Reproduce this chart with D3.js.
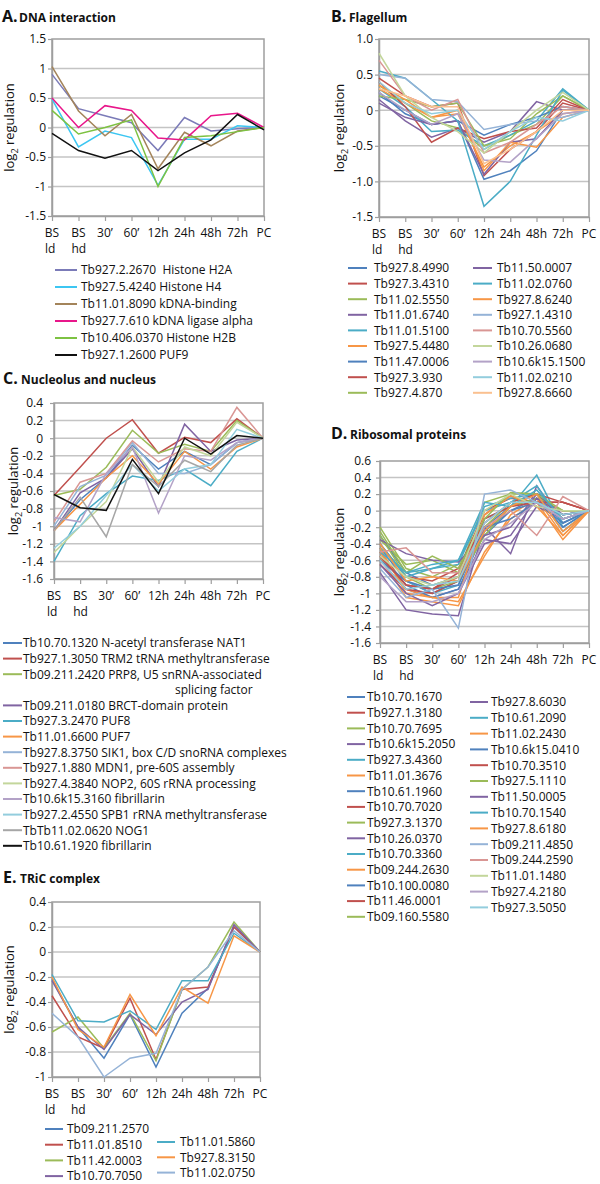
<!DOCTYPE html>
<html>
<head>
<meta charset="utf-8">
<script src="https://cdn.jsdelivr.net/npm/d3@7"></script>
<style>
  html, body { margin: 0; padding: 0; background: #fff; }
  text { font-family: "Open Sans", "Liberation Sans", Arial, sans-serif; fill: #111; }
</style>
</head>
<body>
<svg id="chart" width="600" height="1184"></svg>
<script>
// ---------- DATA ----------
const categoryLabels = [["BS","ld"],["BS","hd"],["30’"],["60’"],["12h"],["24h"],["48h"],["72h"],["PC"]];

// Excel-style palettes
const base = ["#4F81BD","#C0504D","#9BBB59","#8064A2","#4BACC6","#F79646"];
const light = ["#95B3D7","#D99694","#C3D69B","#B3A2C7","#93CDDD","#FAC090"];

// A. DNA interaction
const aNames = ["Tb927.2.2670  Histone H2A","Tb927.5.4240 Histone H4","Tb11.01.8090 kDNA-binding",
  "Tb927.7.610 kDNA ligase alpha","Tb10.406.0370 Histone H2B","Tb927.1.2600 PUF9"];
const aColors = ["#7b7bb8","#3cc6f2","#a3845a","#e8168a","#7dc242","#111111"];
const aValues = [
  [0.90, 0.32, 0.20, 0.08, -0.39, 0.17, -0.06, -0.02, 0],
  [0.48, -0.33, -0.06, -0.17, -0.98, -0.20, -0.20, 0.03, 0],
  [1.03, 0.28, -0.14, 0.22, -0.70, -0.08, -0.31, -0.06, 0],
  [0.50, 0.00, 0.37, 0.29, -0.18, -0.21, 0.20, 0.24, 0],
  [0.29, -0.11, 0.00, 0.13, -1.00, -0.17, -0.14, -0.07, 0],
  [-0.10, -0.39, -0.52, -0.39, -0.73, -0.43, -0.21, 0.22, -0.04]
];
const aTicks = [-1.5,-1,-0.5,0,0.5,1,1.5];

// B. Flagellum
const bNames = ["Tb927.8.4990","Tb927.3.4310","Tb11.02.5550","Tb11.01.6740","Tb11.01.5100","Tb927.5.4480",
  "Tb11.47.0006","Tb927.3.930","Tb927.4.870","Tb11.50.0007","Tb11.02.0760","Tb927.8.6240",
  "Tb927.1.4310","Tb10.70.5560","Tb10.26.0680","Tb10.6k15.1500","Tb11.02.0210","Tb927.8.6660"];
const bColors = [...base, ...base, ...light];
const bValues = [
  [0.25, -0.05, -0.20, -0.15, -0.97, -0.85, -0.57, 0.00, 0],
  [0.45, 0.20, 0.05, 0.10, -0.92, -0.55, -0.30, 0.10, 0],
  [0.35, 0.10, -0.15, -0.25, -0.55, -0.35, -0.20, 0.20, 0],
  [0.15, -0.15, -0.38, -0.25, -0.45, -0.30, 0.12, 0.00, 0],
  [0.30, 0.05, -0.30, -0.28, -0.50, -0.35, -0.15, 0.30, 0],
  [0.30, 0.10, -0.10, -0.05, -0.80, -0.50, -0.30, -0.05, 0],
  [0.20, 0.00, -0.20, -0.15, -0.35, -0.20, -0.10, 0.05, 0],
  [0.40, 0.05, -0.45, -0.25, -0.40, -0.30, -0.25, 0.15, 0],
  [0.20, 0.15, 0.05, 0.10, -0.50, -0.40, -0.05, 0.20, 0],
  [0.10, -0.10, -0.20, -0.15, -0.90, -0.45, -0.40, 0.00, 0],
  [0.55, 0.45, 0.15, -0.15, -1.35, -1.00, -0.35, 0.28, 0],
  [0.35, 0.15, -0.10, 0.00, -0.85, -0.45, -0.52, -0.10, 0],
  [0.50, 0.45, 0.15, 0.12, -0.27, -0.20, -0.15, -0.10, 0],
  [0.70, 0.20, 0.00, 0.15, -0.60, -0.45, -0.20, 0.05, 0],
  [0.80, 0.20, -0.10, -0.30, -0.60, -0.30, 0.00, 0.25, 0],
  [0.25, 0.00, -0.20, -0.05, -0.70, -0.73, -0.40, -0.05, 0],
  [0.40, 0.10, -0.05, 0.00, -0.55, -0.30, -0.10, -0.15, 0],
  [0.30, 0.20, 0.05, 0.05, -0.75, -0.55, -0.30, 0.00, 0]
];
const bTicks = [-1.5,-1,-0.5,0,0.5,1];

// C. Nucleolus and nucleus
const cNames = ["Tb10.70.1320 N-acetyl transferase NAT1","Tb927.1.3050 TRM2 tRNA methyltransferase",
  "Tb09.211.2420 PRP8, U5 snRNA-associated","Tb09.211.0180 BRCT-domain protein","Tb927.3.2470 PUF8",
  "Tb11.01.6600 PUF7","Tb927.8.3750 SIK1, box C/D snoRNA complexes","Tb927.1.880 MDN1, pre-60S assembly",
  "Tb927.4.3840 NOP2, 60S rRNA processing","Tb10.6k15.3160 fibrillarin","Tb927.2.4550 SPB1 rRNA methyltransferase",
  "TbTb11.02.0620 NOG1","Tb10.61.1920 fibrillarin"];
const cContinuation = "splicing factor";
const cColors = [...base, ...light.slice(0, 5), "#A6A6A6", "#111111"];
const cValues = [
  [-1.05, -0.70, -0.45, -0.08, -0.35, -0.15, -0.30, -0.05, 0],
  [-0.65, -0.33, 0.00, 0.21, -0.17, 0.01, -0.05, 0.22, 0],
  [-0.65, -0.58, -0.33, 0.09, -0.17, -0.07, -0.15, 0.20, 0],
  [-1.05, -0.62, -0.45, -0.12, -0.55, 0.16, -0.15, -0.02, 0],
  [-1.40, -0.88, -0.63, -0.43, -0.48, -0.35, -0.54, -0.15, 0],
  [-1.05, -0.75, -0.45, -0.20, -0.52, -0.15, -0.35, -0.10, 0],
  [-1.00, -0.55, -0.42, -0.05, -0.40, -0.40, -0.30, -0.05, 0],
  [-0.95, -0.50, -0.40, -0.03, -0.27, -0.12, -0.15, 0.35, 0],
  [-1.30, -1.00, -0.72, -0.10, -0.50, -0.10, -0.20, 0.18, 0],
  [-0.90, -0.95, -0.40, -0.10, -0.85, -0.20, -0.25, -0.05, 0],
  [-1.25, -1.00, -0.65, -0.30, -0.60, -0.35, -0.30, 0.10, 0],
  [-1.05, -0.67, -1.12, -0.30, -0.55, -0.25, -0.38, -0.08, 0],
  [-0.64, -0.79, -0.82, -0.24, -0.63, 0.00, -0.18, 0.03, 0]
];
const cTicks = [-1.6,-1.4,-1.2,-1,-0.8,-0.6,-0.4,-0.2,0,0.2,0.4];

// D. Ribosomal proteins
const dNames = ["Tb10.70.1670","Tb927.1.3180","Tb10.70.7695","Tb10.6k15.2050","Tb927.3.4360","Tb11.01.3676",
  "Tb10.61.1960","Tb10.70.7020","Tb927.3.1370","Tb10.26.0370","Tb10.70.3360","Tb09.244.2630",
  "Tb10.100.0080","Tb11.46.0001","Tb09.160.5580",
  "Tb927.8.6030","Tb10.61.2090","Tb11.02.2430","Tb10.6k15.0410","Tb10.70.3510","Tb927.5.1110",
  "Tb11.50.0005","Tb10.70.1540","Tb927.8.6180","Tb09.211.4850","Tb09.244.2590","Tb11.01.1480",
  "Tb927.4.2180","Tb927.3.5050"];
const dColors = [...base, ...base, ...base, ...base, ...light.slice(0,5)];
const dValues = [
  [-0.45, -0.85, -1.00, -0.85, -0.20, 0.05, 0.15, -0.10, 0],
  [-0.50, -0.90, -0.95, -0.75, 0.00, 0.15, 0.10, 0.10, 0],
  [-0.35, -0.65, -0.60, -0.75, 0.10, 0.20, 0.20, -0.05, 0],
  [-0.75, -1.20, -1.25, -1.27, -0.20, -0.52, 0.30, -0.15, 0],
  [-0.60, -0.85, -1.00, -0.90, -0.10, 0.05, 0.43, -0.20, 0],
  [-0.55, -1.05, -1.10, -1.15, -0.50, -0.10, 0.10, -0.35, 0],
  [-0.30, -0.75, -0.90, -0.80, -0.30, 0.00, 0.15, -0.20, 0],
  [-0.40, -0.80, -0.85, -0.70, -0.05, 0.18, 0.05, 0.00, 0],
  [-0.20, -0.70, -0.80, -0.65, -0.20, 0.10, 0.20, -0.10, 0],
  [-0.60, -0.95, -1.05, -0.95, -0.35, -0.40, 0.05, -0.10, 0],
  [-0.45, -0.75, -0.70, -0.65, 0.05, 0.15, 0.20, -0.25, 0],
  [-0.50, -0.95, -1.05, -1.10, -0.55, -0.05, 0.15, -0.30, 0],
  [-0.55, -0.90, -1.05, -0.95, -0.25, 0.00, 0.10, -0.05, 0],
  [-0.65, -0.95, -1.00, -0.85, -0.15, 0.10, 0.20, 0.10, 0],
  [-0.30, -0.80, -0.95, -0.85, -0.30, 0.05, 0.15, 0.00, 0],
  [-0.35, -0.52, -0.60, -0.62, -0.30, -0.20, 0.20, -0.05, 0],
  [-0.40, -0.80, -0.70, -0.60, 0.00, 0.10, 0.30, -0.15, 0],
  [-0.45, -1.00, -1.05, -1.05, -0.05, 0.18, 0.05, -0.30, 0],
  [-0.60, -0.85, -0.95, -0.90, -0.20, -0.10, 0.10, -0.15, 0],
  [-0.55, -0.90, -0.95, -0.80, -0.10, 0.05, 0.10, 0.10, 0],
  [-0.25, -0.75, -0.55, -0.70, -0.10, 0.22, 0.20, 0.00, 0],
  [-0.65, -1.00, -1.15, -1.00, -0.40, -0.30, 0.15, -0.05, 0],
  [-0.50, -0.75, -0.65, -0.60, 0.10, 0.05, 0.25, -0.10, 0],
  [-0.40, -0.85, -0.80, -0.85, -0.25, 0.05, 0.20, -0.25, 0],
  [-0.70, -1.05, -0.95, -1.42, 0.20, 0.25, 0.10, -0.10, 0],
  [-0.50, -0.45, -0.75, -0.75, -0.20, 0.00, -0.30, 0.17, 0],
  [-0.55, -0.80, -0.90, -0.80, 0.00, 0.20, 0.05, 0.00, 0],
  [-0.80, -1.10, -1.10, -1.00, -0.35, -0.15, 0.10, -0.10, 0],
  [-0.60, -0.95, -0.90, -0.85, -0.15, 0.10, 0.10, -0.05, 0]
];
const dTicks = [-1.6,-1.4,-1.2,-1,-0.8,-0.6,-0.4,-0.2,0,0.2,0.4,0.6];

// E. TRiC complex
const eNames = ["Tb09.211.2570","Tb11.01.8510","Tb11.42.0003","Tb10.70.7050","Tb11.01.5860","Tb927.8.3150","Tb11.02.0750"];
const eColors = [...base, light[0]];
const eValues = [
  [-0.22, -0.60, -0.85, -0.50, -0.92, -0.49, -0.29, 0.20, 0],
  [-0.35, -0.68, -0.77, -0.37, -0.86, -0.30, -0.28, 0.20, 0],
  [-0.64, -0.52, -0.77, -0.49, -0.87, -0.30, -0.12, 0.24, 0],
  [-0.23, -0.60, -0.78, -0.50, -0.66, -0.40, -0.30, 0.22, 0],
  [-0.18, -0.55, -0.56, -0.47, -0.62, -0.23, -0.23, 0.15, 0],
  [-0.20, -0.62, -0.76, -0.34, -0.67, -0.28, -0.41, 0.13, 0],
  [-0.49, -0.68, -1.00, -0.85, -0.81, -0.30, -0.12, 0.17, 0]
];
const eTicks = [-1,-0.8,-0.6,-0.4,-0.2,0,0.2,0.4];

// ---------- DRAW ----------
const svg = d3.select("#chart");
const fmtGeneral = d => { const v = Math.round(d*10)/10; return v === 0 ? "0" : String(v); };
const fmtOne = d => { const v = Math.round(d*10)/10; return v === 0 ? "0" : v.toFixed(1); };

function title(x, y, letter, text, x2) {
  svg.append("text").attr("x", x).attr("y", y).attr("font-size", 16).attr("font-weight", "bold").text(letter);
  svg.append("text").attr("x", x2).attr("y", y).attr("font-size", 12).attr("font-weight", "bold").text(text);
}

function panel(p) {
  const g = svg.append("g");
  const x = d3.scalePoint().domain(d3.range(categoryLabels.length)).range([p.left, p.right]);
  const y = d3.scaleLinear().domain(p.domain).range([p.bottom, p.top]);

  // grid
  g.selectAll(".grid").data(p.ticks.filter(t => t !== p.domain[0] && t !== p.domain[1]))
    .join("line")
    .attr("x1", p.left).attr("x2", p.right)
    .attr("y1", d => y(d)).attr("y2", d => y(d))
    .attr("stroke", "#c4c4c4").attr("stroke-width", 1.5);

  // frame
  g.append("rect").attr("x", p.left).attr("y", p.top)
    .attr("width", p.right - p.left).attr("height", p.bottom - p.top)
    .attr("fill", "none").attr("stroke", "#9e9e9e").attr("stroke-width", 1.5);

  // y axis
  const ya = g.append("g").attr("transform", `translate(${p.left},0)`)
    .call(d3.axisLeft(y).tickValues(p.ticks).tickFormat(p.fmt).tickSize(4).tickSizeOuter(0).tickPadding(p.pad));
  ya.select(".domain").attr("stroke", "#9e9e9e").attr("stroke-width", 1.5);
  ya.selectAll(".tick line").attr("stroke", "#9e9e9e").attr("stroke-width", 1.2);
  ya.selectAll(".tick text").attr("font-size", 12).attr("fill", "#111")
    .attr("font-family", '"Open Sans", "Liberation Sans", Arial, sans-serif');

  // x axis
  const xa = g.append("g").attr("transform", `translate(0,${p.bottom})`)
    .call(d3.axisBottom(x).tickFormat("").tickSize(5).tickSizeOuter(0));
  xa.select(".domain").attr("stroke", "#9e9e9e").attr("stroke-width", 1.5);
  xa.selectAll(".tick line").attr("stroke", "#9e9e9e").attr("stroke-width", 1.2);

  categoryLabels.forEach((lab, i) => {
    g.append("text").attr("x", x(i)).attr("y", p.bottom + 20.5)
      .attr("text-anchor", "middle").attr("font-size", 12).text(lab[0]);
    if (lab[1]) {
      g.append("text").attr("x", x(i) - 7).attr("y", p.bottom + 36.5)
        .attr("font-size", 12).text(lab[1]);
    }
  });

  // y label
  const yl = g.append("text")
    .attr("transform", `translate(${p.ylx},${(p.top + p.bottom) / 2}) rotate(-90)`)
    .attr("text-anchor", "middle").attr("font-size", 13);
  yl.append("tspan").text("log");
  yl.append("tspan").attr("font-size", 9).attr("dy", 4).text("2");
  yl.append("tspan").attr("dy", -4).text(" regulation");

  // lines
  const line = d3.line().x((d, i) => x(i)).y(d => y(d));
  g.selectAll(".series").data(p.values).join("path")
    .attr("d", line).attr("fill", "none")
    .attr("stroke", (d, i) => p.colors[i]).attr("stroke-width", 1.5)
    .attr("stroke-linejoin", "miter");
}

function legendRow(x0, x1, tx, yc, color, label) {
  svg.append("line").attr("x1", x0).attr("x2", x1).attr("y1", yc).attr("y2", yc)
    .attr("stroke", color).attr("stroke-width", 2);
  svg.append("text").attr("x", tx).attr("y", yc + 4.3).attr("font-size", 12)
    .style("white-space", "pre").text(label);
}

// Panel A
title(2, 22, "A.", "DNA interaction", 19);
panel({left: 52, right: 264, top: 39, bottom: 216, domain: [-1.5, 1.5], ticks: aTicks, fmt: fmtGeneral,
  pad: 2, ylx: 14, values: aValues, colors: aColors});
aNames.forEach((n, i) => legendRow(55, 77, 81, 270 + 17 * i, aColors[i], n));

// Panel B
title(331, 22, "B.", "Flagellum", 349);
panel({left: 379, right: 589, top: 39, bottom: 217, domain: [-1.5, 1], ticks: bTicks, fmt: fmtOne,
  pad: 2, ylx: 344, values: bValues, colors: bColors});
bNames.forEach((n, i) => {
  const col = i < 9 ? 0 : 1, r = i % 9;
  if (col === 0) legendRow(348, 367, 374, 268 + 15.6 * r, bColors[i], n);
  else legendRow(473, 492, 497, 268 + 15.6 * r, bColors[i], n);
});

// Panel C
title(3, 384, "C.", "Nucleolus and nucleus", 21);
panel({left: 54, right: 263, top: 403, bottom: 579, domain: [-1.6, 0.4], ticks: cTicks, fmt: fmtGeneral,
  pad: 7, ylx: 18, values: cValues, colors: cColors});
cNames.forEach((n, i) => {
  const row = i <= 2 ? i : i + 1;
  legendRow(3, 22, 23, 643 + 15.6 * row, cColors[i], n);
  if (i === 2) svg.append("text").attr("x", 175).attr("y", 643 + 15.6 * 3 + 4.3)
    .attr("font-size", 12).text(cContinuation);
});

// Panel D
title(331, 439, "D.", "Ribosomal proteins", 350);
panel({left: 380, right: 589, top: 461, bottom: 643, domain: [-1.6, 0.6], ticks: dTicks, fmt: fmtGeneral,
  pad: 5, ylx: 344, values: dValues, colors: dColors});
dNames.forEach((n, i) => {
  if (i < 15) legendRow(347, 365, 367, 697 + 15.7 * i, dColors[i], n);
  else legendRow(470, 488, 491, 702 + 15.8 * (i - 15), dColors[i], n);
});

// Panel E
title(3, 883, "E.", "TRiC complex", 20);
panel({left: 52, right: 260, top: 902, bottom: 1077, domain: [-1, 0.4], ticks: eTicks, fmt: fmtGeneral,
  pad: 2, ylx: 14, values: eValues, colors: eColors});
eNames.forEach((n, i) => {
  if (i < 4) legendRow(45, 63, 67, 1129 + 15.7 * i, eColors[i], n);
  else legendRow(157, 175, 180, 1142 + 15.3 * (i - 4), eColors[i], n);
});
</script>
</body>
</html>
